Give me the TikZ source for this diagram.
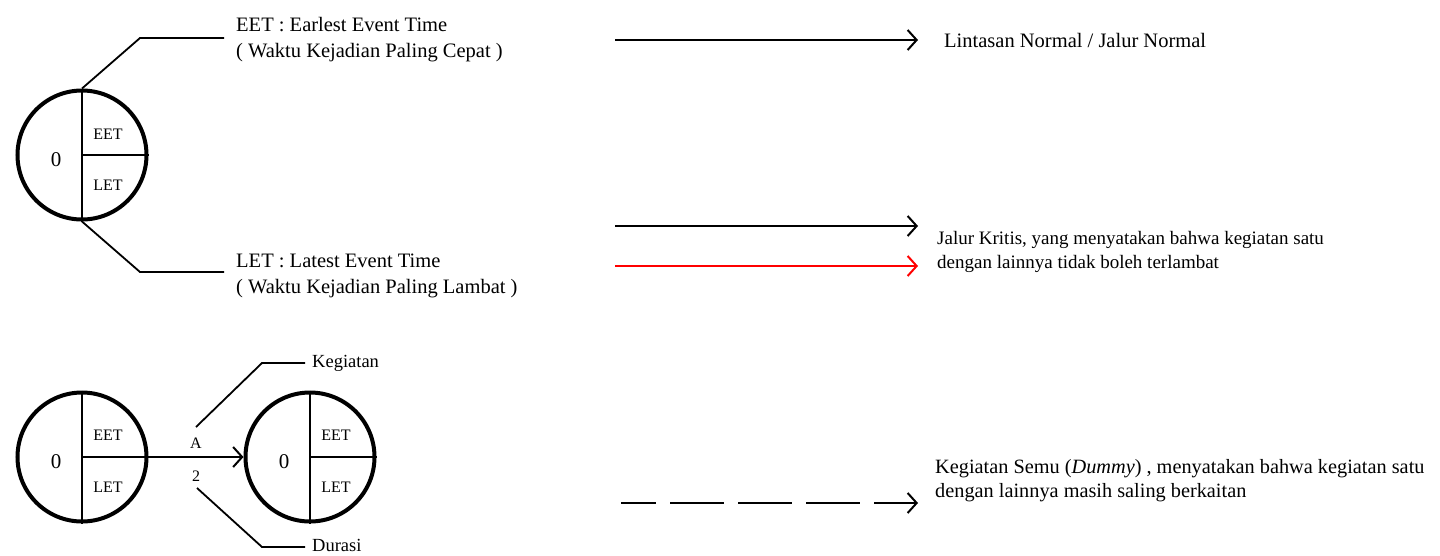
\documentclass[tikz,border=0pt]{standalone}
\usepackage{fontspec}
\setmainfont{Liberation Serif}
\usetikzlibrary{arrows.meta}
\begin{document}
\begin{tikzpicture}[x=1pt,y=-1pt,
  evt/.style={circle,draw,line width=4pt,minimum size=129pt,inner sep=0pt},
  part/.style={line width=1.8pt},
  lead/.style={line width=1.8pt},
  conn/.style={line width=2pt,-{Straight Barb[length=9pt,width=20pt,line width=2pt]}},
  bigtxt/.style={font=\fontsize{20.5}{26}\selectfont,align=left,anchor=base west,inner sep=0pt},
  midtxt/.style={font=\fontsize{19}{24}\selectfont,align=left,anchor=base west,inner sep=0pt},
  smalltxt/.style={font=\fontsize{16}{18}\selectfont,inner sep=0pt},
  zerotxt/.style={font=\fontsize{21}{24}\selectfont,inner sep=0pt},
  labtxt/.style={font=\fontsize{18.5}{22}\selectfont,anchor=west,inner sep=0pt}]
\useasboundingbox (0,0) rectangle (1440,555);

% top legend circle
\node[evt] (c1) at (82,155) {};
\draw[part] (c1.north) -- (c1.south);
\draw[part] (c1.center) -- (c1.east);
\node[zerotxt] (c1z) at (56,160) {0};
\node[smalltxt] (c1e) at (108,134) {EET};
\node[smalltxt] (c1l) at (108,185) {LET};

\coordinate (k1) at (140,38);
\coordinate (k1e) at (224,38);
\coordinate (k2) at (140,272);
\coordinate (k2e) at (224,272);
\draw[lead] (c1.north) -- (k1) -- (k1e);
\draw[lead] (c1.south) -- (k2) -- (k2e);
\node[bigtxt] (teet) at (236,57) {EET : Earlest Event Time\\( Waktu Kejadian Paling Cepat )};
\node[bigtxt] (tlet) at (236,293) {LET : Latest Event Time\\( Waktu Kejadian Paling Lambat )};

% bottom example
\node[evt] (c2) at (82,457) {};
\draw[part] (c2.north) -- (c2.south);
\draw[part] (c2.center) -- (c2.east);
\node[zerotxt] (c2z) at (56,462) {0};
\node[smalltxt] (c2e) at (108,435) {EET};
\node[smalltxt] (c2l) at (108,487) {LET};

\node[evt] (c3) at (310,457) {};
\draw[part] (c3.north) -- (c3.south);
\draw[part] (c3.center) -- (c3.east);
\node[zerotxt] (c3z) at (284,462) {0};
\node[smalltxt] (c3e) at (336,435) {EET};
\node[smalltxt] (c3l) at (336,487) {LET};

\draw[conn] (c2.east) -- (c3.west);
\node[smalltxt] (la) at (196,443) {A};
\node[smalltxt] (l2) at (196,476) {2};

\coordinate (a1) at (196,427);
\coordinate (a2) at (262,363);
\coordinate (a3) at (305,363);
\draw[lead] (a1) -- (a2) -- (a3);
\node[labtxt] (keg) at (312,363) {Kegiatan};
\coordinate (d1) at (197,488);
\coordinate (d2) at (262,547);
\coordinate (d3) at (305,547);
\draw[lead] (d1) -- (d2) -- (d3);
\node[labtxt] (dur) at (312,545) {Durasi};

% right legend
\coordinate (n1) at (615,40);
\coordinate (n2) at (918,40);
\draw[conn] (n1) -- (n2);
\node[midtxt,font=\fontsize{20.5}{24}\selectfont] (tn) at (944,47) {Lintasan Normal / Jalur Normal};

\coordinate (b1) at (615,226);
\coordinate (b2) at (918,226);
\draw[conn] (b1) -- (b2);
\coordinate (r1) at (615,266);
\coordinate (r2) at (918,266);
\draw[conn,red] (r1) -- (r2);
\node[midtxt] (tk) at (937,268) {Jalur Kritis, yang menyatakan bahwa kegiatan satu\\dengan lainnya tidak boleh terlambat};

\coordinate (s1) at (621,503);
\coordinate (s2) at (918,503);
\draw[conn,line width=2.4pt,dash pattern=on 54pt off 14pt,dash phase=19pt] (s1) -- (s2);
\node[midtxt,font=\fontsize{20.3}{24}\selectfont] (td) at (935,497) {Kegiatan Semu (\textit{Dummy}) , menyatakan bahwa kegiatan satu\\dengan lainnya masih saling berkaitan};
\end{tikzpicture}
\end{document}
